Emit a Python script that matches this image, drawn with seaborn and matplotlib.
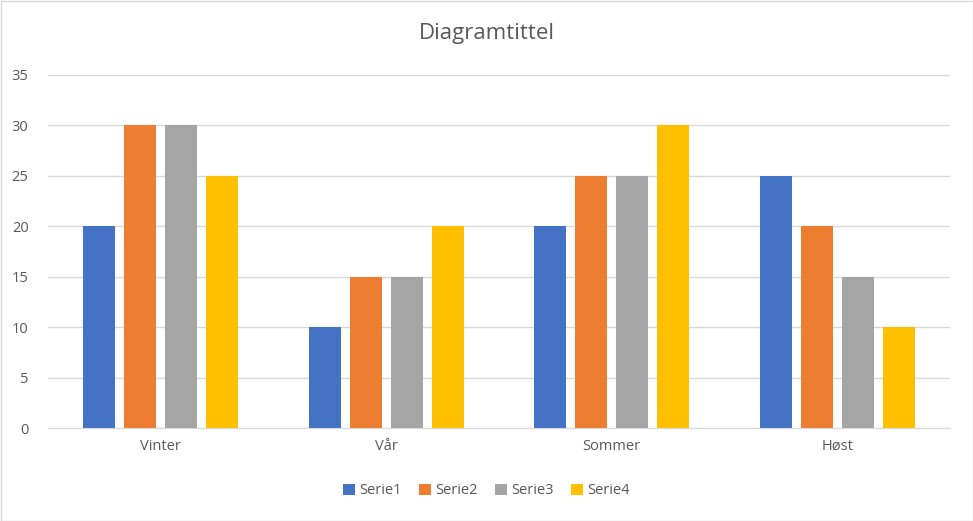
import matplotlib
matplotlib.use("Agg")
import matplotlib.pyplot as plt
import seaborn as sns
import pandas as pd
from matplotlib.patches import Rectangle

categories = ["Vinter", "Vår", "Sommer", "Høst"]
series_names = ["Serie1", "Serie2", "Serie3", "Serie4"]
serie1 = [20, 10, 20, 25]
serie2 = [30, 15, 25, 20]
serie3 = [30, 15, 25, 15]
serie4 = [25, 20, 30, 10]
yticks = [0, 5, 10, 15, 20, 25, 30, 35]

rows = []
for name, vals in zip(series_names, [serie1, serie2, serie3, serie4]):
    for c, v in zip(categories, vals):
        rows.append({"cat": c, "serie": name, "val": v})
df = pd.DataFrame(rows)

sns.set_style("white")
plt.rcParams['font.family'] = ['Open Sans', 'DejaVu Sans']

colors = ["#4472C4", "#ED7D31", "#A5A5A5", "#FFC000"]
fig = plt.figure(figsize=(9.73, 5.21), dpi=100)
ax = fig.add_axes([48/973, 1-428/521, 902/973, (428-75)/521])
sns.barplot(data=df, x="cat", y="val", hue="serie", order=categories,
            hue_order=series_names, palette=colors, width=0.726, gap=0.22,
            saturation=1, ax=ax, legend=True, linewidth=0, edgecolor="none")
ax.set_ylim(0, 35)
ax.set_xlim(-0.5, 3.5)
ax.set_yticks(yticks)
ax.yaxis.grid(True, color="#D9D9D9", linewidth=1)
ax.set_axisbelow(True)
for s in ["top", "right", "left"]:
    ax.spines[s].set_visible(False)
ax.spines["bottom"].set_color("#D9D9D9")
ax.tick_params(axis="both", length=0, labelsize=10.5, labelcolor="#595959", pad=8)
ax.tick_params(axis="y", pad=14)
ax.set_xlabel("")
ax.set_ylabel("")
fig.text(0.5, 1-34/521, "Diagramtittel", ha="center", va="center", fontsize=16, color="#595959")

handles, labels = ax.get_legend_handles_labels()
ax.legend_.remove()
fig.legend(handles, labels, loc="center", bbox_to_anchor=(0.5, 1-491/521), ncol=4,
           frameon=False, fontsize=10.5, labelcolor="#595959", handlelength=0.8,
           handleheight=0.8, handletextpad=0.3, columnspacing=1.2)

fig.patches.append(Rectangle((0.5/973, 0.5/521), 1-1/973, 1-1/521, transform=fig.transFigure,
                             fill=False, edgecolor="#D9D9D9", linewidth=1))
fig.savefig("out.png", dpi=100)
